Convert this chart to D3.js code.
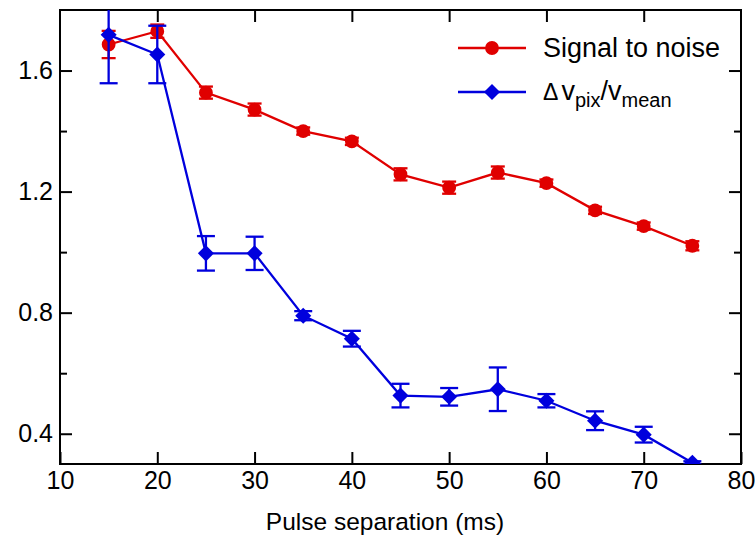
<!DOCTYPE html>
<html>
<head>
<meta charset="utf-8">
<script src="https://cdn.jsdelivr.net/npm/d3@7"></script>
<style>
  body { margin: 0; background: #fff; }
  svg { font-family: "Liberation Sans", Arial, sans-serif; }
</style>
</head>
<body>
<svg></svg>
<script>
const width = 755;
const height = 538;

// pulse separation (ms)
const separation = [15, 20, 25, 30, 35, 40, 45, 50, 55, 60, 65, 70, 75];
// signal to noise, with error
const snr = [1.686, 1.730, 1.527, 1.471, 1.400, 1.366, 1.257, 1.213, 1.263, 1.228, 1.138, 1.086, 1.021];
const snrErr = [0.045, 0.022, 0.020, 0.020, 0.012, 0.012, 0.020, 0.020, 0.020, 0.012, 0.012, 0.012, 0.015];
// delta v_pix / v_mean, with error
const dv = [1.718, 1.653, 0.996, 0.996, 0.790, 0.714, 0.526, 0.522, 0.547, 0.509, 0.443, 0.397, 0.304];
const dvErr = [0.160, 0.095, 0.057, 0.055, 0.015, 0.026, 0.039, 0.029, 0.072, 0.022, 0.031, 0.026, 0.005];

const xTicks = [10, 20, 30, 40, 50, 60, 70, 80];
const yTicks = [0.4, 0.8, 1.2, 1.6];
const yMinor = [0.6, 1.0, 1.4];

const margin = {left: 60, right: 14, top: 10, bottom: 74};
const svg = d3.select('svg').attr('width', width).attr('height', height);

const x = d3.scaleLinear().domain([10, 80]).range([margin.left, width - margin.right]);
const y = d3.scaleLinear().domain([0.3, 1.8]).range([height - margin.bottom, margin.top]);

svg.append('clipPath').attr('id', 'plot')
  .append('rect')
  .attr('x', x(10)).attr('y', y(1.8))
  .attr('width', x(80) - x(10)).attr('height', y(0.3) - y(1.8));

function styleAxis(g) {
  g.select('.domain').remove();
  g.selectAll('.tick line').attr('stroke', '#000').attr('stroke-width', 2);
  g.selectAll('.tick text').attr('fill', '#000').style('font-size', '25px');
}

// axes, ticks pointing inward on all four sides
svg.append('g')
  .attr('transform', `translate(0,${y(0.3)})`)
  .call(d3.axisBottom(x).tickValues(xTicks).tickSizeInner(-12).tickSizeOuter(0).tickPadding(7))
  .call(styleAxis);
svg.append('g')
  .attr('transform', `translate(0,${y(1.8)})`)
  .call(d3.axisTop(x).tickValues(xTicks.slice(1, -1)).tickSizeInner(-12).tickSizeOuter(0).tickFormat(''))
  .call(styleAxis);
svg.append('g')
  .attr('transform', `translate(${x(10)},0)`)
  .call(d3.axisLeft(y).tickValues(yTicks).tickSizeInner(-12).tickSizeOuter(0).tickPadding(7).tickFormat(d3.format('.1f')))
  .call(styleAxis);
svg.append('g')
  .attr('transform', `translate(${x(10)},0)`)
  .call(d3.axisLeft(y).tickValues(yMinor).tickSizeInner(-7).tickSizeOuter(0).tickFormat(''))
  .call(styleAxis);
svg.append('g')
  .attr('transform', `translate(${x(80)},0)`)
  .call(d3.axisRight(y).tickValues(yTicks).tickSizeInner(-12).tickSizeOuter(0).tickFormat(''))
  .call(styleAxis);
svg.append('g')
  .attr('transform', `translate(${x(80)},0)`)
  .call(d3.axisRight(y).tickValues(yMinor).tickSizeInner(-7).tickSizeOuter(0).tickFormat(''))
  .call(styleAxis);

svg.append('rect')
  .attr('x', x(10)).attr('y', y(1.8))
  .attr('width', x(80) - x(10)).attr('height', y(0.3) - y(1.8))
  .attr('fill', 'none').attr('stroke', '#000').attr('stroke-width', 2);

svg.append('text')
  .attr('x', 385).attr('y', 530)
  .attr('text-anchor', 'middle')
  .style('font-size', '24.5px')
  .text('Pulse separation (ms)');

const series = [
  {vals: snr, err: snrErr, color: '#e00000', cap: 7, marker: 'circle'},
  {vals: dv, err: dvErr, color: '#0000dd', cap: 9, marker: 'diamond'}
];

const line = d3.line().x(d => x(d[0])).y(d => y(d[1]));
const circleSym = d3.symbol().type(d3.symbolCircle).size(150);
const diamondSym = d3.symbol().type(d3.symbolDiamond2).size(165);

const plot = svg.append('g').attr('clip-path', 'url(#plot)');

series.forEach(s => {
  const pts = separation.map((t, i) => [t, s.vals[i], s.err[i]]);
  const g = plot.append('g');
  g.append('path')
    .datum(pts)
    .attr('d', line)
    .attr('fill', 'none').attr('stroke', s.color).attr('stroke-width', 2.3);
  const eb = g.selectAll('.err').data(pts).enter().append('g').attr('class', 'err')
    .attr('stroke', s.color).attr('stroke-width', 2.3);
  eb.append('line')
    .attr('x1', d => x(d[0])).attr('x2', d => x(d[0]))
    .attr('y1', d => y(d[1] - d[2])).attr('y2', d => y(d[1] + d[2]));
  eb.append('line')
    .attr('x1', d => x(d[0]) - s.cap).attr('x2', d => x(d[0]) + s.cap)
    .attr('y1', d => y(d[1] + d[2])).attr('y2', d => y(d[1] + d[2]));
  eb.append('line')
    .attr('x1', d => x(d[0]) - s.cap).attr('x2', d => x(d[0]) + s.cap)
    .attr('y1', d => y(d[1] - d[2])).attr('y2', d => y(d[1] - d[2]));
  g.selectAll('.mark').data(pts).enter().append('path').attr('class', 'mark')
    .attr('transform', d => `translate(${x(d[0])},${y(d[1])})`)
    .attr('d', s.marker === 'circle' ? circleSym : diamondSym)
    .attr('fill', s.color);
});

// legend
const legend = svg.append('g');
const legendRows = [{y: 48, s: series[0]}, {y: 92, s: series[1]}];
legendRows.forEach(r => {
  legend.append('line')
    .attr('x1', 458).attr('x2', 526).attr('y1', r.y).attr('y2', r.y)
    .attr('stroke', r.s.color).attr('stroke-width', 2.3);
  legend.append('path')
    .attr('transform', `translate(492,${r.y})`)
    .attr('d', r.s.marker === 'circle' ? circleSym : diamondSym)
    .attr('fill', r.s.color);
});
legend.append('text')
  .attr('x', 543).attr('y', 57)
  .style('font-size', '27px')
  .text('Signal to noise');
const t2 = legend.append('text').attr('x', 543).attr('y', 100).style('font-size', '27px');
t2.append('tspan').style('font-size', '23px').text('\u0394');
t2.append('tspan').attr('dx', 3).text('v');
t2.append('tspan').attr('dy', 7).style('font-size', '20px').text('pix');
t2.append('tspan').attr('dy', -7).text('/v');
t2.append('tspan').attr('dy', 7).style('font-size', '20px').text('mean');
</script>
</body>
</html>
